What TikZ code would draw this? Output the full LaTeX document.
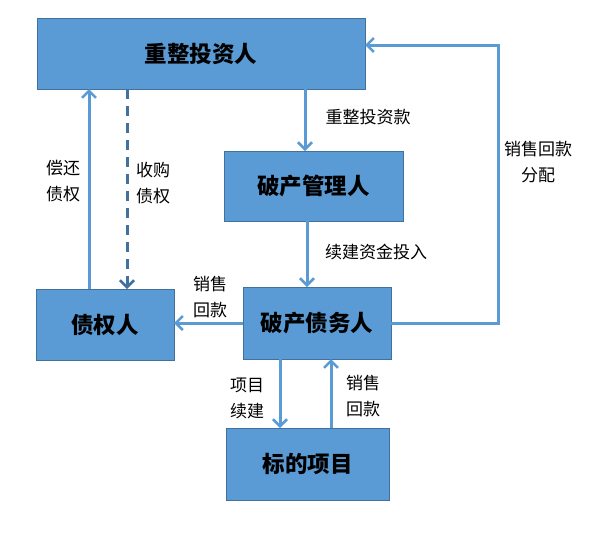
\documentclass[tikz,border=0pt]{standalone}
\usepackage{fontspec}
\setmainfont{Noto Sans CJK SC}
\usetikzlibrary{arrows.meta}
\definecolor{boxblue}{HTML}{5B9BD5}
\definecolor{boxedge}{HTML}{41719C}
\begin{document}
\begin{tikzpicture}[x=1pt,y=-1pt,
  box/.style={draw=boxedge,line width=1pt,fill=boxblue,inner sep=0pt,outer sep=0pt,font=\fontsize{22.5}{26}\selectfont\bfseries},
  conn/.style={draw=boxblue,line width=3pt,-{Straight Barb[length=7pt,width=14pt,line width=2.5pt]}},
  dconn/.style={draw=boxedge,line width=3pt,dash pattern=on 10pt off 7pt,-{Straight Barb[length=7pt,width=14pt,line width=2.5pt]}},
  lbl/.style={font=\fontsize{17}{26}\selectfont,align=center,inner sep=0pt}]
\useasboundingbox (0,0) rectangle (613,536);
\node[box,minimum width=328pt,minimum height=71pt] (inv) at (201,53.5) {重整投资人};
\node[box,minimum width=179pt,minimum height=70pt] (adm) at (313.5,186) {破产管理人};
\node[box,minimum width=148pt,minimum height=72pt] (deb) at (317,323) {破产债务人};
\node[box,minimum width=138pt,minimum height=71pt] (cre) at (105,324.5) {债权人};
\node[box,minimum width=163pt,minimum height=72pt] (prj) at (307.5,464) {标的项目};
\coordinate (corner1) at (498,323);
\coordinate (corner2) at (498,45);
% connectors
\draw[conn] ([xshift=-16pt]cre.north) -- ([xshift=-16pt]cre.north |- inv.south);
\draw[dconn] ([xshift=-74pt]inv.south) -- ([xshift=-74pt]inv.south |- cre.north);
\draw[conn] ([xshift=104pt]inv.south) -- ([xshift=104pt]inv.south |- adm.north);
\draw[conn] ([xshift=-6.5pt]adm.south) -- ([xshift=-6.5pt]adm.south |- deb.north);
\draw[conn] (deb.west) -- (deb.west -| cre.east);
\draw[conn] (deb.east) -- (corner1) -- (corner2) -- (corner2 -| inv.east);
\draw[conn] ([xshift=-37pt]deb.south) -- ([xshift=-37pt]deb.south |- prj.north);
\draw[conn] ([xshift=23.5pt]prj.north) -- ([xshift=23.5pt]prj.north |- deb.south);
% labels
\node[lbl] (l1) at (63,181) {偿还\\债权};
\node[lbl] (l2) at (153,183) {收购\\债权};
\node[lbl] (l3) at (368,117) {重整投资款};
\node[lbl] (l4) at (376,252) {续建资金投入};
\node[lbl] (l5) at (210,297) {销售\\回款};
\node[lbl] (l6) at (538,162) {销售回款\\分配};
\node[lbl] (l7) at (247,398) {项目\\续建};
\node[lbl] (l8) at (363,396) {销售\\回款};
\end{tikzpicture}
\end{document}
